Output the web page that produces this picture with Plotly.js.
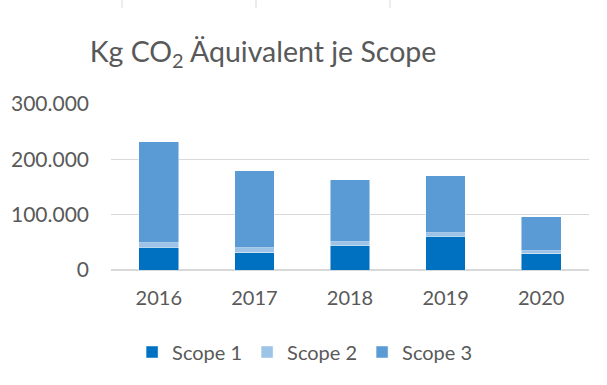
<!DOCTYPE html>
<html>
<head>
<meta charset="utf-8">
<script src="https://cdn.plot.ly/plotly-3.0.1.min.js"></script>
<style>
  html, body { margin: 0; padding: 0; background: #fff; }
  #chart { width: 607px; height: 385px; }
</style>
</head>
<body>
<div id="chart"></div>
<script>
const years = ['2016', '2017', '2018', '2019', '2020'];
const scope1 = [41000, 31000, 44500, 61000, 29500];
const scope2 = [8500, 9600, 6700, 6500, 5400];
const scope3 = [182500, 139000, 112000, 103000, 61500];
const seriesNames = ['Scope 1', 'Scope 2', 'Scope 3'];
const seriesColors = ['#0070C0', '#9DC3E6', '#5B9BD5'];
const yTicks = [0, 100000, 200000, 300000];

const FONT = 'Lato, "Open Sans", sans-serif';
const GREY = '#595959';

const traces = [scope1, scope2, scope3].map((vals, i) => ({
  type: 'bar',
  x: years,
  y: vals,
  name: seriesNames[i],
  marker: { color: seriesColors[i], line: { color: 'rgba(255,255,255,0.6)', width: 0.8 } },
  hoverinfo: 'skip'
}));

const layout = {
  width: 607,
  height: 385,
  barmode: 'stack',
  bargap: 0.585,
  separators: ',.',
  paper_bgcolor: '#ffffff',
  plot_bgcolor: '#ffffff',
  margin: { l: 111, r: 18, t: 104, b: 115 },
  font: { family: FONT, color: GREY, size: 20 },
  title: {
    text: 'Kg CO<sub>2</sub> Äquivalent je Scope',
    font: { family: FONT, size: 28.5, color: GREY },
    x: 263 / 607,
    xanchor: 'center',
    xref: 'container',
    y: 1 - 52 / 385,
    yanchor: 'middle',
    yref: 'container'
  },
  xaxis: {
    type: 'category',
    showgrid: false,
    showline: false,
    zeroline: false,
    ticks: '',
    ticklabelstandoff: 14,
    tickfont: { family: FONT, size: 20, color: GREY },
    fixedrange: true
  },
  yaxis: {
    range: [0, 300000],
    tickvals: yTicks,
    tickformat: ',d',
    showgrid: true,
    gridcolor: '#d9d9d9',
    gridwidth: 1.5,
    zeroline: true,
    zerolinecolor: '#d9d9d9',
    zerolinewidth: 1.5,
    showline: false,
    ticks: '',
    ticklabelstandoff: 21,
    tickfont: { family: FONT, size: 21, color: GREY },
    fixedrange: true
  },
  legend: {
    orientation: 'h',
    x: 0.405,
    xanchor: 'center',
    y: -0.494,
    yanchor: 'middle',
    font: { family: FONT, size: 20, color: GREY },
    itemwidth: 30,
    traceorder: 'normal'
  },
  shapes: [122, 256, 390].map(px => ({
    type: 'line',
    xref: 'paper', yref: 'paper',
    x0: (px - 111) / 478, x1: (px - 111) / 478,
    y0: (270 - 0) / 166, y1: (270 - 8) / 166,
    line: { color: '#d9d9d9', width: 1 }
  })),
  showlegend: true
};

Plotly.newPlot('chart', traces, layout, { displayModeBar: false, staticPlot: true });
</script>
</body>
</html>
